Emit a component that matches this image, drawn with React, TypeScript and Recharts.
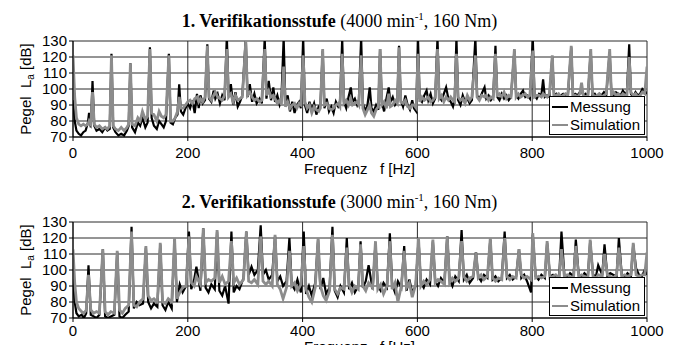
import React from "react";
import { LineChart, Line, XAxis, YAxis, CartesianGrid, Legend } from "recharts";

// ---------- Panel 1: 4000 min^-1, 160 Nm ----------
const freq1 = [
  0, 3, 6, 10, 14, 18, 22, 26, 28, 31,
  34, 37, 41, 46, 51, 56, 60, 64, 67, 70,
  74, 79, 84, 89, 94, 97, 100, 103, 108, 113,
  117, 121, 126, 130, 134, 137, 141, 146, 150, 154,
  158, 162, 167, 170, 174, 178, 182, 185, 188, 192,
  196, 200, 204, 208, 212, 216, 219, 222, 226, 230,
  234, 237, 241, 245, 248, 252, 256, 260, 264, 268,
  271, 275, 279, 283, 287, 291, 295, 301, 304, 308,
  312, 316, 320, 325, 329, 334, 337, 341, 345, 349,
  352, 356, 360, 363, 367, 370, 374, 378, 382, 386,
  390, 394, 397, 401, 404, 408, 412, 416, 420, 424,
  428, 431, 435, 438, 442, 446, 450, 454, 458, 462,
  465, 469, 472, 476, 480, 484, 487, 491, 495, 498,
  502, 505, 509, 513, 517, 520, 524, 528, 532, 535,
  538, 542, 546, 550, 553, 557, 561, 565, 568, 571,
  575, 579, 583, 587, 591, 594, 598, 601, 604, 608,
  612, 616, 619, 623, 627, 631, 635, 638, 642, 646,
  650, 654, 658, 662, 665, 668, 671, 675, 679, 683,
  687, 691, 695, 701, 704, 708, 712, 717, 720, 724,
  728, 732, 736, 739, 743, 747, 751, 755, 759, 763,
  769, 772, 776, 780, 784, 788, 792, 796, 801, 804,
  808, 812, 816, 819, 822, 826, 830, 835, 838, 842,
  846, 850, 854, 858, 862, 868, 871, 875, 879, 883,
  886, 889, 893, 897, 902, 905, 909, 913, 917, 921,
  925, 929, 935, 938, 942, 946, 950, 954, 958, 962,
  965, 969, 972, 976, 980, 984, 988, 992, 996, 1000,
];
const messung1 = [
  93, 80, 74, 72, 71, 73, 74, 79, 85, 76,
  105, 77, 74, 75, 73, 76, 74, 75, 122, 76,
  73, 71, 72, 71, 74, 77, 116, 76, 73, 79,
  77, 82, 76, 79, 126, 82, 77, 75, 80, 78,
  76, 80, 122, 79, 78, 82, 84, 103, 86, 84,
  88, 91, 88, 93, 85, 97, 88, 96, 91, 93,
  128, 94, 92, 99, 94, 97, 91, 96, 93, 133,
  96, 103, 90, 98, 89, 92, 96, 132, 95, 103,
  92, 97, 91, 94, 91, 132, 94, 105, 93, 101,
  92, 96, 90, 93, 132, 91, 96, 86, 92, 85,
  90, 92, 88, 132, 90, 85, 92, 87, 91, 84,
  89, 90, 124, 88, 94, 86, 89, 85, 92, 89,
  91, 131, 92, 88, 95, 101, 92, 94, 90, 93,
  132, 91, 86, 90, 101, 88, 86, 90, 87, 125,
  92, 86, 94, 101, 92, 95, 90, 92, 127, 93,
  89, 96, 90, 87, 93, 88, 86, 132, 94, 92,
  96, 99, 93, 97, 91, 94, 132, 95, 93, 97,
  101, 94, 92, 89, 94, 132, 93, 90, 96, 92,
  94, 91, 93, 132, 96, 94, 97, 101, 94, 96,
  93, 95, 127, 95, 93, 97, 94, 96, 93, 95,
  124, 96, 94, 97, 99, 95, 96, 94, 132, 96,
  94, 97, 96, 106, 95, 96, 95, 120, 96, 97,
  95, 96, 97, 96, 95, 126, 96, 97, 96, 98,
  99, 96, 97, 95, 124, 96, 97, 95, 97, 96,
  98, 96, 123, 97, 96, 98, 97, 96, 99, 97,
  98, 128, 97, 95, 98, 96, 97, 100, 99, 97,
];
const simulation1 = [
  121, 95, 82, 78, 77, 78, 77, 78, 80, 78,
  98, 78, 76, 77, 75, 76, 75, 77, 121, 77,
  75, 74, 76, 74, 76, 78, 116, 78, 77, 82,
  80, 86, 81, 83, 125, 85, 84, 80, 86, 83,
  82, 84, 121, 80, 80, 82, 86, 95, 88, 88,
  90, 92, 93, 91, 94, 95, 92, 94, 92, 95,
  127, 95, 93, 96, 98, 95, 94, 93, 96, 125,
  95, 97, 92, 96, 93, 94, 95, 130, 96, 98,
  95, 93, 94, 92, 93, 125, 96, 99, 95, 96,
  94, 91, 93, 90, 114, 89, 92, 88, 90, 91,
  88, 91, 90, 121, 92, 88, 90, 85, 89, 87,
  86, 88, 125, 90, 91, 88, 87, 88, 90, 91,
  89, 122, 91, 93, 90, 94, 90, 91, 92, 90,
  121, 88, 84, 87, 90, 85, 83, 87, 89, 125,
  90, 92, 88, 97, 89, 90, 93, 91, 126, 92,
  91, 93, 89, 88, 90, 90, 88, 122, 92, 95,
  93, 94, 95, 92, 93, 95, 125, 94, 96, 92,
  95, 93, 95, 93, 92, 122, 95, 93, 94, 91,
  96, 93, 95, 121, 95, 93, 96, 95, 96, 93,
  95, 94, 122, 96, 97, 95, 98, 94, 96, 95,
  125, 95, 97, 95, 96, 97, 95, 96, 124, 95,
  96, 96, 95, 97, 96, 95, 97, 121, 95, 96,
  97, 95, 96, 97, 96, 127, 95, 96, 95, 97,
  104, 96, 95, 96, 125, 97, 95, 96, 97, 95,
  96, 97, 125, 96, 98, 96, 97, 95, 97, 96,
  96, 120, 98, 96, 97, 95, 96, 98, 97, 114,
];

// ---------- Panel 2: 3000 min^-1, 160 Nm ----------
const freq2 = [
  0, 3, 6, 10, 15, 19, 23, 27, 31, 36,
  41, 46, 52, 56, 61, 66, 72, 77, 81, 86,
  91, 97, 102, 106, 111, 116, 122, 127, 131, 136,
  141, 147, 152, 156, 161, 166, 172, 177, 181, 186,
  191, 197, 202, 206, 211, 215, 222, 227, 231, 236,
  241, 247, 251, 255, 260, 265, 271, 276, 280, 285,
  290, 297, 302, 306, 311, 316, 322, 327, 331, 336,
  341, 347, 352, 356, 361, 366, 372, 377, 381, 386,
  391, 397, 402, 406, 411, 416, 422, 427, 431, 436,
  441, 447, 452, 456, 461, 466, 472, 477, 481, 486,
  491, 497, 501, 505, 510, 515, 522, 527, 531, 536,
  541, 547, 552, 556, 561, 566, 572, 577, 581, 586,
  591, 597, 602, 606, 611, 616, 622, 627, 631, 636,
  641, 647, 652, 656, 661, 666, 672, 677, 681, 686,
  691, 697, 702, 706, 711, 716, 722, 727, 731, 736,
  741, 747, 752, 756, 761, 766, 772, 777, 781, 786,
  791, 798, 801, 806, 811, 816, 822, 826, 831, 836,
  841, 847, 851, 856, 861, 866, 872, 876, 881, 886,
  891, 897, 901, 906, 911, 915, 922, 926, 931, 936,
  941, 947, 951, 956, 961, 966, 972, 976, 981, 986,
  991, 996, 1000,
];
const messung2 = [
  94, 80, 73, 71, 72, 70, 73, 103, 72, 71,
  70, 72, 113, 71, 70, 71, 72, 111, 71, 70,
  72, 74, 127, 76, 80, 78, 79, 114, 80, 76,
  79, 77, 116, 78, 75, 80, 76, 119, 80, 91,
  86, 90, 124, 88, 94, 102, 87, 126, 89, 86,
  91, 88, 124, 87, 84, 90, 79, 124, 86, 90,
  88, 95, 124, 97, 102, 97, 100, 128, 97, 100,
  94, 97, 121, 93, 96, 90, 93, 120, 91, 88,
  94, 86, 124, 85, 90, 84, 92, 119, 88, 95,
  85, 89, 127, 87, 83, 90, 86, 120, 88, 92,
  86, 90, 118, 89, 93, 103, 88, 117, 90, 87,
  92, 89, 123, 91, 86, 93, 89, 115, 87, 94,
  86, 90, 119, 92, 89, 94, 91, 118, 93, 90,
  95, 92, 121, 94, 90, 96, 93, 125, 94, 97,
  92, 95, 111, 96, 93, 97, 95, 119, 94, 96,
  93, 95, 124, 95, 97, 94, 96, 113, 95, 97,
  93, 86, 122, 96, 94, 97, 95, 117, 96, 97,
  95, 96, 124, 97, 95, 98, 96, 119, 97, 95,
  98, 96, 118, 97, 96, 103, 97, 116, 96, 98,
  97, 96, 120, 97, 95, 98, 96, 116, 101, 97,
  96, 100, 97,
];
const simulation2 = [
  113, 92, 80, 76, 74, 73, 75, 97, 75, 73,
  74, 73, 113, 74, 72, 74, 73, 112, 75, 73,
  76, 78, 124, 78, 77, 80, 82, 115, 84, 81,
  82, 80, 117, 80, 79, 82, 80, 120, 82, 86,
  89, 90, 121, 92, 90, 96, 91, 126, 92, 94,
  93, 95, 125, 92, 96, 91, 93, 118, 92, 95,
  91, 94, 124, 93, 92, 94, 91, 121, 93, 91,
  93, 90, 122, 91, 88, 82, 89, 112, 90, 92,
  87, 91, 115, 88, 83, 80, 89, 120, 90, 84,
  81, 87, 122, 88, 85, 89, 88, 114, 91, 86,
  90, 88, 116, 90, 87, 92, 89, 118, 88, 91,
  85, 90, 118, 88, 92, 80, 90, 112, 89, 92,
  83, 91, 120, 90, 93, 91, 94, 119, 92, 94,
  93, 91, 121, 92, 95, 93, 95, 118, 96, 93,
  95, 96, 111, 95, 97, 94, 96, 120, 95, 93,
  95, 94, 120, 96, 94, 96, 95, 113, 97, 95,
  96, 94, 123, 95, 96, 95, 96, 118, 95, 96,
  97, 95, 113, 96, 97, 96, 95, 115, 96, 97,
  96, 95, 119, 96, 95, 97, 96, 110, 97, 96,
  95, 97, 114, 96, 97, 96, 97, 117, 97, 96,
  97, 97, 111,
];

const xTicks = [0, 200, 400, 600, 800, 1000];
const yTicks = [70, 80, 90, 100, 110, 120, 130];
const panelTitles = [
  { stage: "1. Verifikationsstufe", speed: "4000", torque: "160 Nm" },
  { stage: "2. Verifikationsstufe", speed: "3000", torque: "160 Nm" },
];

const SANS = "'Liberation Sans', Arial, sans-serif";
const SERIF = "'Liberation Serif', 'Times New Roman', serif";
const GRAY = "#8c8c8c";

function buildRows(freq: number[], m: number[], s: number[]) {
  return freq.map((f, i) => ({ f, Messung: m[i], Simulation: s[i] }));
}

const LegendBox = (props: any) => {
  const payload = props.payload || [];
  return (
    <div
      style={{
        border: "1px solid #000",
        background: "#fff",
        width: 96,
        height: 39,
        boxSizing: "border-box",
        fontFamily: SANS,
        fontSize: 15,
        color: "#000",
        paddingTop: 1,
        paddingLeft: 2,
      }}
    >
      {payload.map((p: any) => (
        <div key={p.value} style={{ display: "flex", alignItems: "center", height: 18 }}>
          <span
            style={{
              display: "inline-block",
              width: 16,
              height: 0,
              borderTop: `2px solid ${p.color}`,
              marginRight: 2,
            }}
          />
          <span style={{ lineHeight: "18px" }}>{p.value}</span>
        </div>
      ))}
    </div>
  );
};

function Panel({ rows, top, xTickMargin }: { rows: any[]; top: number; xTickMargin: number }) {
  return (
    <div style={{ position: "absolute", left: 0, top, width: 675, height: 175 }}>
      <LineChart
        width={675}
        height={175}
        data={rows}
        margin={{ top: 41, right: 28, bottom: 8, left: 43 }}
      >
        <CartesianGrid stroke="#2a2a2a" strokeWidth={1} />
        <XAxis
          dataKey="f"
          type="number"
          domain={[0, 1000]}
          ticks={xTicks}
          interval={0}
          height={30}
          tickSize={4}
          tickMargin={xTickMargin}
          allowDataOverflow
          axisLine={{ stroke: "#000" }}
          tickLine={{ stroke: "#000" }}
          tick={{ fill: "#000", fontSize: 15, fontFamily: SANS }}
        />
        <YAxis
          type="number"
          domain={[70, 130]}
          ticks={yTicks}
          interval={0}
          width={30}
          tickSize={4}
          tickMargin={2}
          allowDataOverflow
          axisLine={{ stroke: "#000" }}
          tickLine={{ stroke: "#000" }}
          tick={{ fill: "#000", fontSize: 15, fontFamily: SANS }}
        />
        <Line
          type="linear"
          dataKey="Messung"
          stroke="#000"
          strokeWidth={2.2}
          dot={false}
          activeDot={false}
          isAnimationActive={false}
        />
        <Line
          type="linear"
          dataKey="Simulation"
          stroke={GRAY}
          strokeWidth={2.8}
          dot={false}
          activeDot={false}
          isAnimationActive={false}
        />
        <Legend
          layout="vertical"
          align="center"
          verticalAlign="middle"
          wrapperStyle={{ left: 549, top: 96, width: 96, height: 39 }}
          content={<LegendBox />}
        />
      </LineChart>
    </div>
  );
}

function Labels({
  offset,
  xLabelY,
  title,
}: {
  offset: number;
  xLabelY: number;
  title: (typeof panelTitles)[0];
}) {
  return (
    <g>
      <text x={339.5} y={27 + offset} textAnchor="middle" fontFamily={SERIF} fontSize={18} fill="#000">
        <tspan fontWeight="bold">{title.stage}</tspan>
        <tspan>{` (${title.speed} min`}</tspan>
        <tspan fontSize={11} dy={-7}>-1</tspan>
        <tspan dy={7}>{`, ${title.torque})`}</tspan>
      </text>
      <text
        transform={`translate(31, ${89 + offset}) rotate(-90)`}
        textAnchor="middle"
        fontFamily={SANS}
        fontSize={15}
        fill="#000"
        style={{ whiteSpace: "pre" }}
      >
        <tspan>{"Pegel  L"}</tspan>
        <tspan fontSize={10} dy={3}>a</tspan>
        <tspan dy={-3}>{" [dB]"}</tspan>
      </text>
      <text
        x={359.5}
        y={xLabelY}
        textAnchor="middle"
        fontFamily={SANS}
        fontSize={15}
        fill="#000"
        style={{ whiteSpace: "pre" }}
      >
        {"Frequenz   f [Hz]"}
      </text>
    </g>
  );
}

export default function App() {
  const rows1 = buildRows(freq1, messung1, simulation1);
  const rows2 = buildRows(freq2, messung2, simulation2);
  return (
    <div
      style={{
        position: "absolute",
        left: 0,
        top: 0,
        width: 675,
        height: 345,
        overflow: "hidden",
        background: "#fff",
      }}
    >
      <Panel rows={rows1} top={0} xTickMargin={6} />
      <Panel rows={rows2} top={181} xTickMargin={3} />
      <svg
        width={675}
        height={345}
        style={{ position: "absolute", left: 0, top: 0, pointerEvents: "none" }}
      >
        <Labels offset={0} xLabelY={174} title={panelTitles[0]} />
        <Labels offset={181} xLabelY={352} title={panelTitles[1]} />
      </svg>
    </div>
  );
}
